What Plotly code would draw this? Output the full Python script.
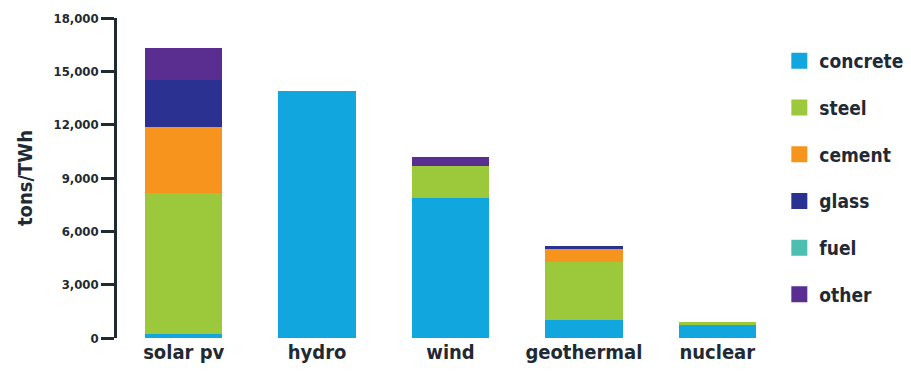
import plotly.graph_objects as go

categories = ["solar pv", "hydro", "wind", "geothermal", "nuclear"]
materials = ["concrete", "steel", "cement", "glass", "fuel", "other"]
colors = ["#12a6de", "#9cc93b", "#f7941d", "#2b3190", "#4cbfb0", "#5a2d91"]

concrete = [250, 13900, 7900, 1040, 740]
steel = [7920, 0, 1780, 3250, 160]
cement = [3690, 0, 0, 730, 0]
glass = [2670, 0, 0, 150, 0]
fuel = [0, 0, 0, 0, 0]
other = [1790, 0, 490, 0, 0]

series = [concrete, steel, cement, glass, fuel, other]
y_ticks = [0, 3000, 6000, 9000, 12000, 15000, 18000]

FONT = "DejaVu Sans Condensed"
TXT = "#1f2a35"

fig = go.Figure()
for name, vals, col in zip(materials, series, colors):
    fig.add_trace(go.Bar(x=categories, y=vals, name=name, marker=dict(color=col, line=dict(width=0)),
                         showlegend=False))
for name, col in zip(materials, colors):
    fig.add_trace(go.Scatter(x=[None], y=[None], mode="markers", name=name,
                             marker=dict(symbol="square", size=19, color=col),
                             legendgroup=name, showlegend=True))

fig.update_layout(
    barmode="stack",
    bargap=0.42,
    width=911, height=375,
    margin=dict(l=117, r=127, t=18, b=37, autoexpand=False),
    plot_bgcolor="white", paper_bgcolor="white",
    font=dict(family=FONT, color=TXT),
    legend=dict(x=0.993, y=0.925, xanchor="left", yanchor="top",
                font=dict(size=19, family=FONT, color=TXT, weight="bold"),
                traceorder="grouped", tracegroupgap=19, itemwidth=30,
                bgcolor="rgba(0,0,0,0)"),
    xaxis=dict(range=[-0.5, 4.5], showline=False, ticks="", showgrid=False,
               tickfont=dict(size=20, family=FONT, color=TXT, weight="bold")),
    yaxis=dict(range=[0, 18000], tickvals=y_ticks, tickformat=",", showgrid=False, zeroline=False,
               showline=True, linecolor=TXT, linewidth=2.5, ticks="outside", ticklen=13, tickwidth=2.5,
               tickcolor=TXT, tickfont=dict(size=13, family=FONT, color=TXT, weight="bold"),
               title=dict(text="tons/TWh", font=dict(size=20, family=FONT, color=TXT, weight="bold"),
                          standoff=16)),
)

fig.write_html("out.html")
